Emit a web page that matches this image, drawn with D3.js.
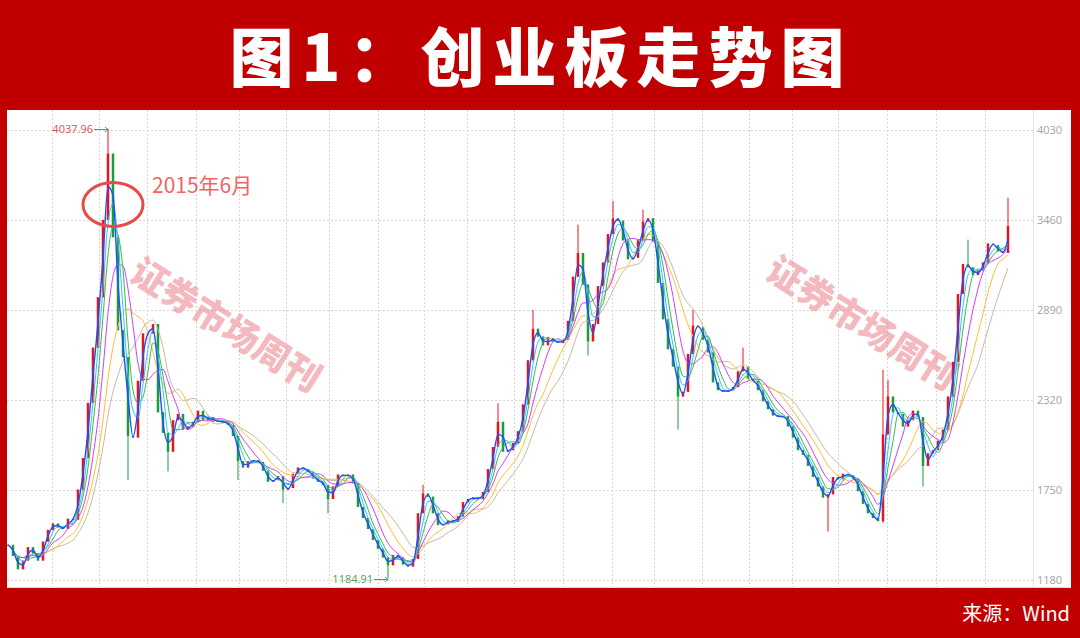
<!DOCTYPE html>
<html>
<head>
<meta charset="utf-8">
<script src="https://cdn.jsdelivr.net/npm/d3@7"></script>
<style>
  html, body { margin: 0; padding: 0; background: #c00000; }
  svg { display: block; }
</style>
</head>
<body>
<div id="chart"></div>
<script>
// ChiNext index, one candle every few weeks
var closes = [
  1400, 1330, 1245, 1300, 1385, 1345, 1300, 1420, 1495, 1535,
  1510, 1500, 1565, 1560, 1750, 1950, 2300, 2650, 2970, 3460,
  3880, 3350, 2760, 2590, 2090, 2080, 2440, 2740, 2740, 2800,
  2240, 2110, 1990, 2190, 2230, 2130, 2150, 2180, 2250, 2190,
  2210, 2180, 2185, 2175, 2160, 2090, 1930, 1890, 1930, 1935,
  1925, 1870, 1800, 1810, 1835, 1750, 1760, 1850, 1890, 1880,
  1860, 1820, 1800, 1780, 1690, 1770, 1845, 1835, 1845, 1790,
  1640, 1570, 1500, 1430, 1375, 1320, 1270, 1335, 1320, 1275,
  1262, 1310, 1600, 1725, 1705, 1600, 1525, 1530, 1555, 1545,
  1580, 1670, 1690, 1700, 1690, 1735, 1880, 2020, 2180, 1990,
  2000, 2045, 2120, 2290, 2570, 2770, 2720, 2665, 2710, 2690,
  2680, 2700, 2820, 3100, 3250, 3050, 2690, 2800, 3040, 3190,
  3370, 3470, 3455, 3330, 3210, 3220, 3330, 3450, 3470, 3320,
  3060, 2830, 2640, 2530, 2340, 2370, 2610, 2790, 2780, 2700,
  2620, 2430, 2380, 2370, 2380, 2400, 2500, 2530, 2450, 2440,
  2380, 2310, 2260, 2220, 2210, 2215, 2150, 2080, 2000, 1970,
  1900, 1830, 1770, 1700, 1720, 1830, 1815, 1850, 1840, 1820,
  1740, 1660, 1600, 1570, 1550, 2100, 2340, 2240, 2230, 2150,
  2190, 2250, 2210, 1900, 1980, 2000, 2060, 2130, 2340, 2560,
  2990, 3180, 3160, 3110, 3140, 3190, 3310, 3300, 3260, 3250,
  3420
];

// long shadows that stick out of the bodies
var wicks = [
  {i: 20, high: 4037.96}, {i: 24, low: 1811}, {i: 32, low: 1865},
  {i: 46, low: 1811}, {i: 55, low: 1665}, {i: 64, low: 1600},
  {i: 76, low: 1184.91}, {i: 83, high: 1780}, {i: 98, high: 2297},
  {i: 105, high: 2890}, {i: 114, high: 3430}, {i: 116, low: 2600},
  {i: 121, high: 3580}, {i: 127, high: 3525}, {i: 134, low: 2130},
  {i: 137, high: 2890}, {i: 147, high: 2650}, {i: 164, low: 1484},
  {i: 175, high: 2510, low: 1540}, {i: 176, high: 2445}, {i: 183, low: 1770},
  {i: 192, high: 3335}, {i: 200, high: 3600}
];

// candle index where each vertical grid line sits
var periodStarts = [8.8, 18.2, 27.8, 37.6, 46.2, 55.6, 64.2, 74, 83.2, 91.8,
  101.2, 111, 120.8, 129.2, 138.8, 148.2, 156.8, 166, 175.8, 185.6, 195.4];

var yTicks = [1180, 1750, 2320, 2890, 3460, 4030];

var maPeriods = [2, 3, 4, 6, 9, 12];
var maColors = ['#1d4fff', '#2cc6f2', '#3cb84a', '#cf3cff', '#ffbd33', '#cbb89e'];

var width = 1080,
    height = 638,
    plotLeft = 7,
    plotRight = 1033,
    plotTop = 110,
    plotBottom = 587;

var svg = d3.select('#chart')
    .append('svg')
    .attr('width', width)
    .attr('height', height);

// red frame
svg.append('rect')
    .attr('width', width)
    .attr('height', height)
    .attr('fill', '#c00000');

svg.append('text')
    .attr('x', 541)
    .attr('y', 81)
    .attr('text-anchor', 'middle')
    .attr('fill', '#fff')
    .style('font-family', '"Noto Sans CJK SC", sans-serif')
    .style('font-weight', 900)
    .style('font-size', '64px')
    .style('letter-spacing', '8px')
    .text('图1：创业板走势图');

svg.append('text')
    .attr('x', 1070)
    .attr('y', 621)
    .attr('text-anchor', 'end')
    .attr('fill', '#fff')
    .style('font-family', '"Noto Sans CJK SC", sans-serif')
    .style('font-size', '20px')
    .text('来源：Wind');

// white panel
svg.append('rect')
    .attr('x', plotLeft)
    .attr('y', plotTop)
    .attr('width', 1071 - plotLeft)
    .attr('height', plotBottom + 1 - plotTop)
    .attr('fill', '#fff');

var x = d3.scaleLinear()
    .domain([0, closes.length - 1])
    .range([8, 1008]);

var y = d3.scaleLinear()
    .domain([1180, 4030])
    .range([579.5, 130]);

// grid
var grid = svg.append('g').attr('class', 'grid');
grid.selectAll('line.h')
    .data(yTicks)
    .enter()
    .append('line')
        .attr('class', 'h')
        .attr('x1', plotLeft)
        .attr('x2', plotRight)
        .attr('y1', function(d) { return Math.round(y(d)) + 0.5; })
        .attr('y2', function(d) { return Math.round(y(d)) + 0.5; });
grid.selectAll('line.v')
    .data(periodStarts)
    .enter()
    .append('line')
        .attr('class', 'v')
        .attr('x1', function(d) { return Math.round(x(d)) + 0.5; })
        .attr('x2', function(d) { return Math.round(x(d)) + 0.5; })
        .attr('y1', plotTop)
        .attr('y2', plotBottom);
grid.selectAll('line')
    .attr('stroke', '#d6d6d6')
    .attr('stroke-width', 1)
    .attr('stroke-dasharray', '2,2');

svg.append('line')
    .attr('x1', plotRight + 0.5).attr('x2', plotRight + 0.5)
    .attr('y1', plotTop).attr('y2', plotBottom)
    .attr('stroke', '#e6e6e6');
svg.append('line')
    .attr('x1', plotLeft).attr('x2', 1071)
    .attr('y1', plotBottom + 0.5).attr('y2', plotBottom + 0.5)
    .attr('stroke', '#e0e0e0');

// right axis labels
var yAxis = d3.axisRight(y)
    .tickValues(yTicks)
    .tickFormat(d3.format('d'))
    .tickSize(0)
    .tickPadding(4);
var axisG = svg.append('g')
    .attr('transform', 'translate(' + (plotRight) + ',0)')
    .call(yAxis);
axisG.select('.domain').remove();
axisG.selectAll('text')
    .attr('fill', '#a3a3a3')
    .style('font-family', '"Open Sans", sans-serif')
    .style('font-size', '11px');

// watermarks
var marks = [{cx: 226, cy: 325}, {cx: 862, cy: 323}];
svg.selectAll('text.mark')
    .data(marks)
    .enter()
    .append('text')
        .attr('class', 'mark')
        .attr('transform', function(d) { return 'translate(' + d.cx + ',' + d.cy + ') rotate(32)'; })
        .attr('text-anchor', 'middle')
        .attr('dy', '0.36em')
        .attr('fill', '#ee8f97')
        .attr('opacity', 0.62)
        .style('font-family', '"Noto Sans CJK SC", serif')
        .style('font-weight', 900)
        .style('font-size', '36px')
        .text('证券市场周刊');

// candles
var candles = closes.map(function(c, i) {
    var o = i === 0 ? c : closes[i - 1];
    var w = wicks.find(function(k) { return k.i === i; }) || {};
    return {
        i: i,
        open: o,
        close: c,
        high: w.high !== undefined ? w.high : Math.max(o, c),
        low: w.low !== undefined ? w.low : Math.min(o, c)
    };
});

function candleColor(d) { return d.close >= d.open ? '#e8141c' : '#1e9a3c'; }

var candleG = svg.append('g').attr('class', 'candles');
var cg = candleG.selectAll('g')
    .data(candles)
    .enter()
    .append('g');
cg.append('line')
    .attr('x1', function(d) { return x(d.i); })
    .attr('x2', function(d) { return x(d.i); })
    .attr('y1', function(d) { return y(d.high); })
    .attr('y2', function(d) { return y(d.low); })
    .attr('stroke', candleColor)
    .attr('stroke-width', 1);
cg.append('rect')
    .attr('x', function(d) { return x(d.i) - 1.25; })
    .attr('width', 2.5)
    .attr('y', function(d) { return y(Math.max(d.open, d.close)); })
    .attr('height', function(d) { return Math.max(1, Math.abs(y(d.open) - y(d.close))); })
    .attr('fill', candleColor);

// moving averages, longest first so the short ones sit on top
function movingAverage(n) {
    return closes.map(function(c, i) {
        var from = Math.max(0, i - n + 1);
        return {i: i, v: d3.mean(closes.slice(from, i + 1))};
    });
}

var line = d3.line()
    .x(function(d) { return x(d.i); })
    .y(function(d) { return y(d.v); })
    .curve(d3.curveMonotoneX);

var maG = svg.append('g').attr('class', 'ma');
maPeriods.slice().reverse().forEach(function(n, k) {
    var idx = maPeriods.length - 1 - k;
    maG.append('path')
        .datum(movingAverage(n))
        .attr('d', line)
        .attr('fill', 'none')
        .attr('stroke', maColors[idx])
        .attr('stroke-width', idx === 0 ? 1.4 : 1);
});

// max / min markers
var peak = candles.reduce(function(a, b) { return b.high > a.high ? b : a; });
var trough = candles.reduce(function(a, b) { return b.low < a.low ? b : a; });

function marker(d, value, color) {
    var ty = Math.round(y(value)) + 0.5;
    var tx = x(d.i);
    svg.append('line')
        .attr('x1', tx - 14).attr('x2', tx)
        .attr('y1', ty).attr('y2', ty)
        .attr('stroke', '#3a9fb0');
    svg.append('path')
        .attr('d', 'M' + (tx - 3) + ',' + (ty - 2.5) + 'L' + tx + ',' + ty + 'L' + (tx - 3) + ',' + (ty + 2.5))
        .attr('fill', 'none')
        .attr('stroke', '#3a9fb0');
    svg.append('text')
        .attr('x', tx - 15)
        .attr('y', ty)
        .attr('dy', '0.35em')
        .attr('text-anchor', 'end')
        .attr('fill', color)
        .style('font-family', '"Open Sans", sans-serif')
        .style('font-size', '11px')
        .text(d3.format('.2f')(value));
}
marker(peak, peak.high, '#e0505a');
marker(trough, trough.low, '#4fa352');

// June 2015 note
svg.append('ellipse')
    .attr('cx', x(peak.i) + 5)
    .attr('cy', 204.5)
    .attr('rx', 30)
    .attr('ry', 22)
    .attr('fill', 'none')
    .attr('stroke', '#e84a4a')
    .attr('stroke-width', 3);
svg.append('text')
    .attr('x', 152)
    .attr('y', 193)
    .attr('fill', '#f06464')
    .style('font-family', '"Noto Sans CJK SC", sans-serif')
    .style('font-size', '21px')
    .text('2015年6月');
</script>
</body>
</html>
